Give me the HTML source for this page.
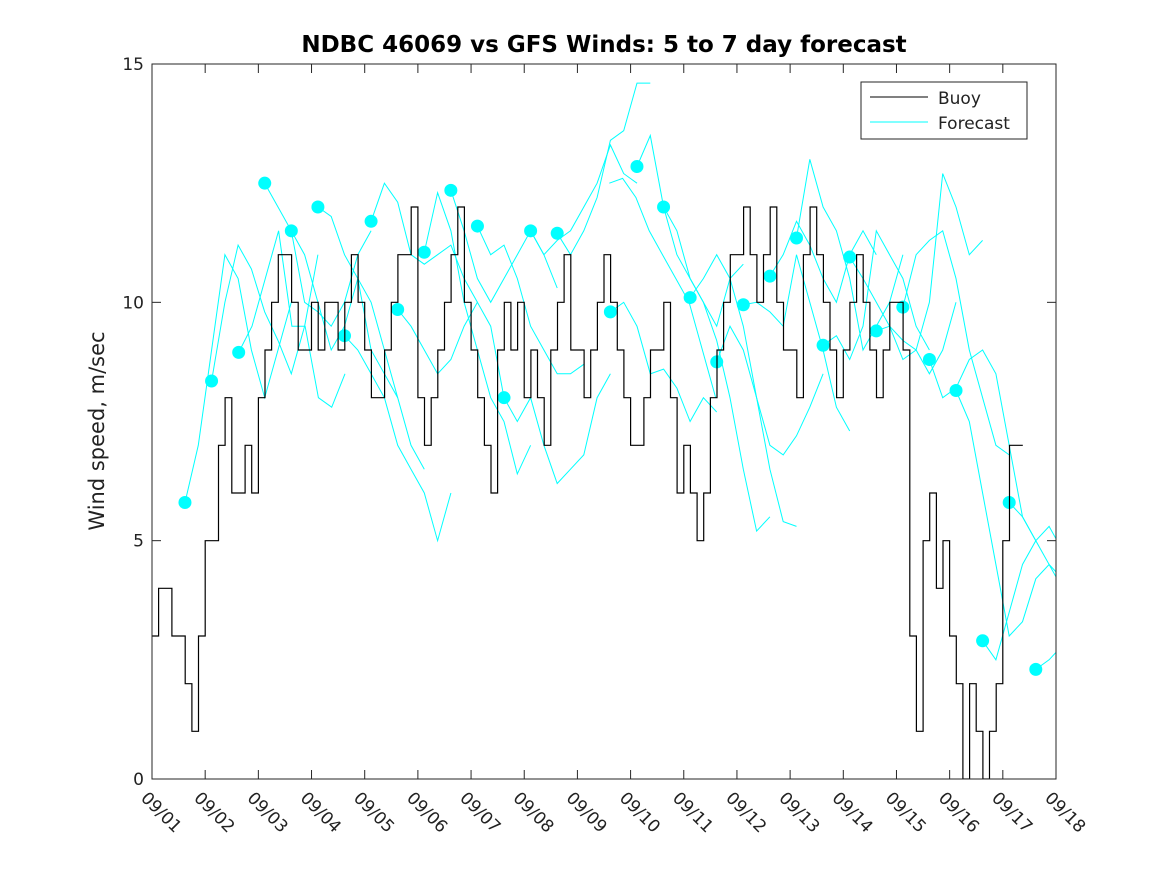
<!DOCTYPE html>
<html><head><meta charset="utf-8"><style>
body{margin:0;background:#fff;}
svg{display:block;font-family:"DejaVu Sans","Liberation Sans",sans-serif;}
</style></head><body>
<svg id="c" width="1167" height="875" xmlns="http://www.w3.org/2000/svg">
<rect width="1167" height="875" fill="#fff"/>
<defs><clipPath id="clip"><rect x="152" y="64" width="904" height="715"/></clipPath></defs>
<text x="604" y="52" text-anchor="middle" font-size="23" font-weight="bold">NDBC 46069 vs GFS Winds: 5 to 7 day forecast</text>
<text transform="translate(104,431) rotate(-90)" text-anchor="middle" font-size="21" fill="#222">Wind speed, m/sec</text>
<g id="axes"></g>
<g id="series" clip-path="url(#clip)"></g>
<rect x="152" y="64" width="904" height="715" fill="none" stroke="#262626" stroke-width="1"/>
<g>
<rect x="861" y="82" width="166" height="57" fill="#fff" stroke="#262626"/>
<line x1="870" y1="97" x2="928" y2="97" stroke="#000"/>
<text x="938" y="104" font-size="17" fill="#222">Buoy</text>
<line x1="870" y1="122" x2="928" y2="122" stroke="#00ffff"/>
<text x="938" y="129" font-size="17" fill="#222">Forecast</text>
</g>
</svg>
<script>
const xTickLabels=["09/01","09/02","09/03","09/04","09/05","09/06","09/07","09/08","09/09","09/10","09/11","09/12","09/13","09/14","09/15","09/16","09/17","09/18"];
const yTicks=[0,5,10,15];
// buoy, 3-hourly values starting 09/01 00:00
const buoy=[3,4,4,3,3,2,1,3, 5,5,7,8,6,6,7,6, 8,9,10,11,11,10,9,9, 10,9,10,10,9,10,11,10,
9,8,8,9,10,11,11,12, 8,7,8,9,10,11,12,10, 9,8,7,6,9,10,9,10, 8,9,8,7,9,10,11,9,
9,8,9,10,11,10,9,8, 7,7,8,9,9,10,8,6, 7,6,5,6,8,9,10,11, 11,12,11,10,11,12,10,9,
9,8,11,12,11,10,9,8, 9,10,11,10,9,8,9,10, 10,9,3,1,5,6,4,5, 3,2,0,2,1,0,1,2, 5,7,7];
// forecast start days and 6-hourly values
const fcStart=[0.62,1.12,1.63,2.12,2.62,3.12,3.62,4.12,4.62,5.12,5.62,6.12,6.62,7.12,7.62,8.6,8.62,9.12,9.62,10.12,10.62,11.12,11.62,12.12,12.62,13.12,13.62,14.12,14.62,15.12,15.62,16.12,16.62];
const fcDot=[true,true,true,true,true,true,true,true,true,true,true,true,true,true,true,false,true,true,true,true,true,true,true,true,true,true,true,true,true,true,true,true,true];
const fcVals=[
[5.8,7,9,11,10.5,9,8,9,10],[8.35,10,11.2,10.7,9.8,9.2,8.5,9.5,11],[8.95,9.5,10.5,11.5,9.5,9.5,8,7.8,8.5],
[12.5,12,11.5,10,9.8,9.5,10,11,11.5],[11.5,11,10,9,9.5,10.5,10,9,8],[12,11.8,11,10.5,9,8.5,8,7,6.5],
[9.3,9,8.5,8,7,6.5,6,5,6],[11.7,12.5,12.1,11,10.8,11,11.2,10.5,10],[9.85,9.5,9,8.5,8.8,9.5,10,9.5,8],
[11.05,12.3,11.5,10,9,8,7.5,6.4,7],[12.35,11.5,10.5,10,10.5,11,11.5,11,10.3],[11.6,11,11.2,10.5,9.5,9,8.5,8.5,8.7],
[8.0,7.5,8,7,6.2,6.5,6.8,8,8.5],[11.5,11,11.3,11.5,12,12.5,13.3,12.7,12.5],[11.45,11,11.5,12.2,13.4,13.6,14.6,14.6],
[12.5,12.6,12.2,11.5,11,10.5,10,9,8],[9.8,10,9.5,8.5,8.6,8.2,7.5,8,7.7],[12.85,13.5,12,11,10.5,10,9.5,10.5,10.8],
[12,11.5,10.5,10,9.2,8,6.5,5.2,5.5],[10.1,10.5,11,10.5,9.5,8,6.5,5.4,5.3],[8.75,9.5,9,8,7,6.8,7.2,7.8,8.5],
[9.95,10,9.8,9.5,11,10,9,7.8,7.3],[10.55,11,11.7,11.2,10.5,10,11,11.5,11],[11.35,13,12,11.5,10.5,9,9.5,10,11],
[9.1,9.3,8.8,9.5,11.5,11,10.5,9.5,9],[10.95,10.5,10,9.5,9.2,9,8.5,9,10],[9.4,9.5,8.8,9,10,12.7,12,11,11.3],
[9.9,11,11.3,11.5,10.5,9,8,7,6.8],[8.8,8,8.2,8.8,9,8.5,7,5.5,5],[8.15,7.5,6,4.5,3,3.3,4.2,4.5,4],
[2.9,2.5,3.5,4.5,5,4.5,4.2,4,4.3],[5.8,5.5,5,5.3,4.8,4.6,5,5.5,6.1],[2.3,2.5,2.8,2.9,4.5,5.5]];
const X0=152,X1=1056,Y0=779,Y1=64;
const xs=d=>X0+d*(X1-X0)/17;
const ys=v=>Y0-v*(Y0-Y1)/15;
const NS="http://www.w3.org/2000/svg";
function mk(t,a,p){const e=document.createElementNS(NS,t);for(const k in a)e.setAttribute(k,a[k]);p.appendChild(e);return e;}
const ax=document.getElementById('axes'),se=document.getElementById('series');
xTickLabels.forEach((l,i)=>{const x=xs(i);
 const t1=mk('line',{x1:x,y1:Y0,x2:x,y2:Y0-9,stroke:'#262626'},ax);
 
 
 const t2=mk('line',{x1:x,y1:Y1,x2:x,y2:Y1+9,stroke:'#262626'},ax);
 
 
 const tx=mk('text',{x:0,y:0,'font-size':17,fill:'#222',transform:`translate(${x-12},${Y0+20}) rotate(45)`},ax);
 tx.textContent=l;
 
 
});
yTicks.forEach(v=>{const y=ys(v);
 const t1=mk('line',{x1:X0,y1:y,x2:X0+9,y2:y,stroke:'#262626'},ax);
 
 
 const t2=mk('line',{x1:X1,y1:y,x2:X1-9,y2:y,stroke:'#262626'},ax);
 
 
 const tx=mk('text',{x:X0-8,y:y+6,'font-size':17,fill:'#222','text-anchor':'end'},ax);
 tx.textContent=v;
 
 
});
fcVals.forEach((arr,i)=>{
 const pts=arr.map((v,j)=>xs(fcStart[i]+j*0.25).toFixed(1)+','+ys(v).toFixed(1)).join(' ');
 const pl=mk('polyline',{points:pts,fill:'none',stroke:'#00ffff','stroke-width':1},se);
 
 
 if(fcDot[i]){const c=mk('circle',{cx:xs(fcStart[i]),cy:ys(arr[0]),r:6.5,fill:'#00ffff'},se);
  
  }
});
let d='';
buoy.forEach((v,i)=>{const x=xs(i/8),y=ys(v);d+=(i?`H${x.toFixed(1)}V${y.toFixed(1)}`:`M${x.toFixed(1)},${y.toFixed(1)}`);});
d+=`H${xs(buoy.length/8).toFixed(1)}`;
const bp=mk('path',{d:d,fill:'none',stroke:'#000','stroke-width':1.2},se);


</script>
</body></html>
